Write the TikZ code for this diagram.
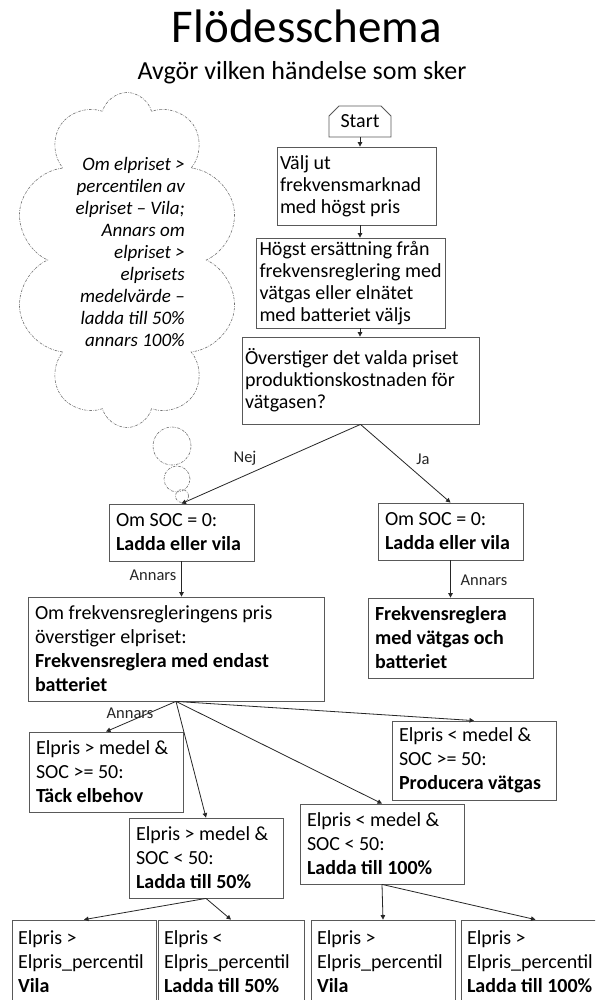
\documentclass[tikz,border=0pt]{standalone}
\usepackage{fontspec}
\setmainfont{Carlito}
\usetikzlibrary{arrows.meta, shapes.symbols, shapes.misc}
\definecolor{boxgray}{HTML}{595959}
\definecolor{cloudgray}{HTML}{707070}
\definecolor{linegray}{HTML}{262626}

\begin{document}
\begin{tikzpicture}[
  x=1pt, y=1pt,
  conn/.style={-{Triangle[length=4.5pt, width=4.5pt]}, linegray, line width=0.8pt},
  box/.style={draw=boxgray, line width=0.8pt, inner xsep=7pt, inner ysep=0pt,
    align=flush left, font=\fontsize{20}{24}\selectfont},
  tbox/.style={box, inner xsep=3pt, font=\fontsize{20}{22}\selectfont},
  lbl/.style={font=\fontsize{16.5}{18}\selectfont, text=black!85},
  cloudline/.style={cloudgray, line width=0.6pt,
    dash pattern=on 2.5pt off 1.2pt on 0.6pt off 1.2pt},
]

% ══════════════════════════════════════════════════════
% Page frame
% ══════════════════════════════════════════════════════
\useasboundingbox (0,0) rectangle (595,-1000);
\fill[white] (0,0) rectangle (595,-1000);
\clip (0,0) rectangle (595,-1000);

% ══════════════════════════════════════════════════════
% Title
% ══════════════════════════════════════════════════════
\node[font=\fontsize{47}{56}\selectfont, anchor=base] (title) at (307,-43) {Flödesschema};
\node[font=\fontsize{26}{31}\selectfont, anchor=base] (subtitle) at (302,-80)
  {Avgör vilken händelse som sker};

% ══════════════════════════════════════════════════════
% Thought cloud
% ══════════════════════════════════════════════════════
\node[cloud, cloudline, draw, cloud puffs=10, aspect=0.67,
  minimum width=225pt, minimum height=335pt] (cloud) at (127,-260) {};
\draw[cloudline] (172,-446) circle (19);
\draw[cloudline] (177,-479) circle (13);
\draw[cloudline] (182,-496) circle (6.5);

\node[font=\itshape\fontsize{19}{22}\selectfont, align=flush right, inner sep=0pt,
  anchor=north east] (cloudtext) at (185,-157)
  {Om elpriset >\\percentilen av\\elpriset – Vila;\\Annars om\\elpriset >\\elprisets\\medelvärde –\\ladda till 50\%\\annars 100\%};

% ══════════════════════════════════════════════════════
% Upper chain
% ══════════════════════════════════════════════════════
\node[chamfered rectangle, chamfered rectangle corners={north west, north east},
  chamfered rectangle xsep=5pt, chamfered rectangle ysep=5pt, draw=boxgray,
  line width=0.8pt, inner sep=0pt, minimum width=62pt, minimum height=31pt,
  font=\fontsize{20}{24}\selectfont] (start) at (360,-121.5) {Start};

\node[tbox, text width=153pt, minimum height=78pt] (valj) at (356.5,-186)
  {Välj ut\\frekvensmarknad\\med högst pris};
\node[tbox, text width=183pt, minimum height=90pt] (hogst) at (351,-283)
  {Högst ersättning~från\\frekvensreglering~med\\vätgas eller elnätet\\med batteriet väljs};
\node[tbox, text width=231pt, minimum height=87pt] (over) at (360.5,-380.5)
  {Överstiger det valda~priset\\produktionskostnaden~för\\vätgasen?};

% ══════════════════════════════════════════════════════
% Yes / no branches
% ══════════════════════════════════════════════════════
\node[box, text width=131pt, minimum height=57pt] (socL) at (181.5,-532.5)
  {Om SOC = 0:\\\textbf{Ladda eller vila}};
\node[box, text width=131pt, minimum height=57pt] (socR) at (450.5,-531.5)
  {Om SOC = 0:\\\textbf{Ladda eller vila}};
\node[box, text width=282pt, minimum height=104pt] (big) at (176,-649)
  {Om frekvensregleringens pris\\överstiger elpriset:\\\textbf{Frekvensreglera med endast}\\\textbf{batteriet}};
\node[box, text width=151pt, minimum height=80pt] (frek) at (450.5,-638)
  {\textbf{Frekvensreglera}\\\textbf{med vätgas och}\\\textbf{batteriet}};

% ══════════════════════════════════════════════════════
% Price cases
% ══════════════════════════════════════════════════════
\node[box, text width=140pt, minimum height=80pt] (tack) at (106,-772)
  {Elpris > medel \&\\SOC >= 50:\\\textbf{Täck elbehov}};
\node[box, text width=140pt, minimum height=80pt] (l50) at (206,-858)
  {Elpris > medel \&\\SOC < 50:\\\textbf{Ladda till 50\%}};
\node[box, text width=150pt, minimum height=79pt] (prod) at (474,-760.5)
  {Elpris < medel \&\\SOC >= 50:\\\textbf{Producera vätgas}};
\node[box, text width=150pt, minimum height=80pt] (l100) at (382,-844)
  {Elpris < medel \&\\SOC < 50:\\\textbf{Ladda till 100\%}};

% ══════════════════════════════════════════════════════
% Bottom row (cut by the page edge)
% ══════════════════════════════════════════════════════
\node[box, inner xsep=6pt, text width=132pt, minimum height=84pt] (b1) at (84,-962)
  {Elpris >\\Elpris\_percentil\\\textbf{Vila}};
\node[box, inner xsep=6pt, text width=134pt, minimum height=84pt] (b2) at (231,-962)
  {Elpris <\\Elpris\_percentil\\\textbf{Ladda till 50\%}};
\node[box, inner xsep=6pt, text width=132pt, minimum height=84pt] (b3) at (383,-962)
  {Elpris >\\Elpris\_percentil\\\textbf{Vila}};
\node[box, inner xsep=6pt, text width=137pt, minimum height=84pt] (b4) at (535.5,-962)
  {Elpris >\\Elpris\_percentil\\\textbf{Ladda till 100\%}};

% ══════════════════════════════════════════════════════
% Connectors
% ══════════════════════════════════════════════════════
\draw[conn] (start.south) -- (start.south |- valj.north);
\draw[conn] (start.south |- valj.south) -- (start.south |- hogst.north);
\draw[conn] (start.south |- hogst.south) -- (start.south |- over.north);

\draw[conn] (over.south) -- (socL.north);
\draw[conn] (over.south) -- (socR.north);
\draw[conn] (socL.south) -- (socL.south |- big.north);
\draw[conn] (socR.south) -- (socR.south |- frek.north);

\draw[conn] (big.south) -- (tack.north);
\draw[conn] (big.south) -- (l50.north);
\draw[conn] (big.south) -- (l100.north);
\draw[conn] (big.south) -- (prod.north);

\draw[conn] (l50.south) -- (b1.north);
\draw[conn] (l50.south) -- (b2.north);
\draw[conn] (l100.south) -- (b3.north);
\draw[conn] (l100.south) -- (b4.north);

% Branch labels
\node[lbl] (nej) at (245,-458) {Nej};
\node[lbl] (ja) at (423,-459) {Ja};
\node[lbl] (annL) at (153,-575) {Annars};
\node[lbl] (annR) at (484,-580) {Annars};
\node[lbl] (annF) at (130,-713) {Annars};

\end{tikzpicture}
\end{document}
